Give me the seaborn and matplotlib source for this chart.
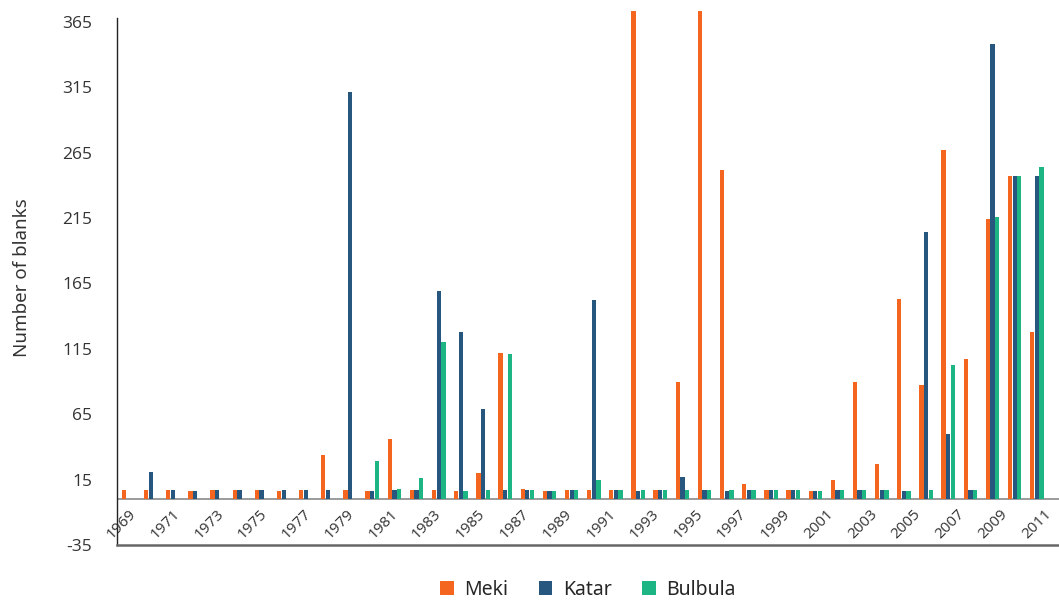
import numpy as np
import pandas as pd
import matplotlib
matplotlib.use("Agg")
import matplotlib.pyplot as plt
import seaborn as sns
from matplotlib.patches import Patch

years = list(range(1969, 2011))
meki = [7, 7, 7, 6, 7, 7, 7, 6, 7, 34,
        7, 6, 46, 7, 7, 6, 20, 112, 8, 6,
        7, 7, 7, 373, 7, 90, 373, 252, 12, 7,
        7, 6, 15, 90, 27, 153, 87, 267, 107, 214,
        247, 128]
katar = [0, 21, 7, 6, 7, 7, 7, 7, 7, 7,
         311, 6, 7, 7, 159, 128, 69, 7, 7, 6,
         7, 152, 7, 6, 7, 17, 7, 6, 7, 7,
         7, 6, 7, 7, 7, 6, 204, 50, 7, 348,
         247, 247]
bulbula = [0, 0, 0, 0, 0, 0, 0, 0, 0, 0,
           0, 29, 8, 16, 120, 6, 7, 111, 7, 6,
           7, 14.5, 7, 7, 7, 7, 7, 7, 7, 7,
           7, 6, 7, 7, 7, 6, 7, 103, 7, 216,
           247, 254]
tick_labels = [str(y) for y in range(1969, 2012, 2)]
yticks = list(range(-35, 366, 50))

series = {"Meki": meki, "Katar": katar, "Bulbula": bulbula}
colors = {"Meki": "#F4661F", "Katar": "#27567F", "Bulbula": "#1DB583"}

rows = []
for name, vals in series.items():
    for y, v in zip(years, vals):
        rows.append({"Year": str(y), "Series": name, "Value": v})
df = pd.DataFrame(rows)

sns.set_theme(style="white")
plt.rcParams['font.family'] = ['Open Sans', 'DejaVu Sans']

fig = plt.figure(figsize=(10.59, 6.0), dpi=100)
ax = fig.add_axes([117 / 1059, 1 - 545 / 600, 1 - 117 / 1059, (545 - 10.7) / 600])

sns.barplot(data=df, x="Year", y="Value", hue="Series",
            order=[str(y) for y in years],
            hue_order=list(series.keys()),
            palette=colors, saturation=1, width=0.63, gap=0.08, linewidth=0,
            errorbar=None, ax=ax, legend=False)

ax.set_xlim(-0.524, 42.0)
ax.set_ylim(-35, 373.5)
ax.set_yticks(yticks)
ax.set_yticklabels([str(t) for t in yticks], fontsize=12.5, color="#333333")
ax.tick_params(axis='y', length=0, pad=18)
ax.set_xticks([])
ax.set_xlabel("")
ax.set_ylabel("Number of blanks", fontsize=13.5, color="#333333",
              family=['Noto Sans', 'DejaVu Sans'], labelpad=22)

ax.axhline(0, color="#8a8a8a", linewidth=1.2, zorder=0.5)

for s in ["top", "right"]:
    ax.spines[s].set_visible(False)
ax.spines["left"].set_color("#222222")
ax.spines["left"].set_linewidth(1.0)
ax.spines["left"].set_bounds(-35, 368)
ax.spines["bottom"].set_color("#666666")
ax.spines["bottom"].set_linewidth(1.8)

label_pos = np.linspace(-0.3, 41.0, len(tick_labels))
for xp, lab in zip(label_pos, tick_labels):
    ax.text(xp, -19, lab, rotation=45, ha="center", va="center",
            fontsize=11, color="#333333", clip_on=False)

handles = [Patch(facecolor=colors[k], edgecolor="none", label=k) for k in series]
fig.legend(handles=handles, loc="center", bbox_to_anchor=(588 / 1059, 1 - 590 / 600),
           ncol=3, frameon=False, handlelength=0.7, handleheight=0.7,
           columnspacing=1.55, handletextpad=0.55,
           prop={'family': ['Noto Sans', 'DejaVu Sans'], 'size': 14})

fig.savefig("out.png", dpi=100)
